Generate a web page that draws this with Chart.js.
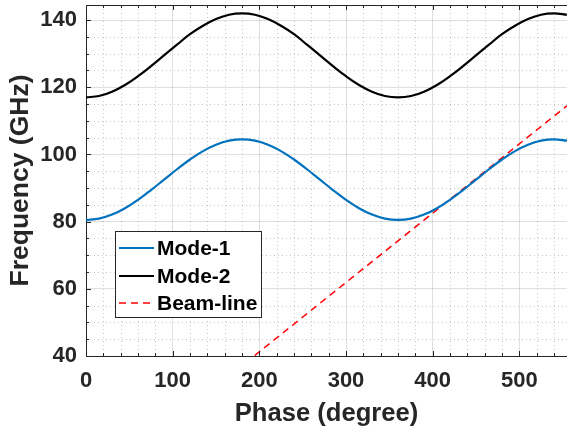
<!DOCTYPE html>
<html>
<head>
<meta charset="utf-8">
<script src="https://cdn.jsdelivr.net/npm/chart.js@4/dist/chart.umd.min.js"></script>
<style>
html,body{margin:0;padding:0;background:#fff;}
#wrap{width:567px;height:432px;}
</style>
</head>
<body>
<div id="wrap"><canvas id="c" width="567" height="432"></canvas></div>
<script>
// ---- data ----
const phase = [0,15,30,45,60,75,90,105,120,135,150,165,180,195,210,225,240,255,270,285,300,315,330,345,360,375,390,405,420,435,450,465,480,495,510,525,540,555];
const mode1 = [80.5,80.9,82.1,84.0,86.5,89.4,92.5,95.6,98.5,101.0,102.9,104.1,104.5,104.1,102.9,101.0,98.5,95.6,92.5,89.4,86.5,84.0,82.1,80.9,80.5,80.9,82.1,84.0,86.5,89.4,92.5,95.6,98.5,101.0,102.9,104.1,104.5,104.1];
const mode2 = [117.0,117.4,118.7,120.7,123.3,126.3,129.5,132.7,135.8,138.3,140.3,141.6,142.0,141.6,140.3,138.3,135.8,132.7,129.5,126.3,123.3,120.7,118.7,117.4,117.0,117.4,118.7,120.7,123.3,126.3,129.5,132.7,135.8,138.3,140.3,141.6,142.0,141.6];
const beamPhase = [0, 555];
const beamFreq = [0, 114.5];
const seriesLabels = ["Mode-1","Mode-2","Beam-line"];
const xTitle = "Phase (degree)";
const yTitle = "Frequency (GHz)";

const toXY = (xs, ys) => xs.map((x,i)=>({x:x, y:ys[i]}));
const FONT = "'Liberation Sans', Arial, Helvetica, sans-serif";
const TXT = '#262626';

const axesPlugin = {
  id: 'axesDecor',
  beforeDatasetsDraw(chart) {
    const {ctx, chartArea:a, scales:{x, y}} = chart;
    ctx.save();
    ctx.strokeStyle = 'rgba(38,38,38,0.25)';
    ctx.lineWidth = 1;
    ctx.setLineDash([1,3]);
    for (let v = 20; v < 556; v += 20) {
      if (v % 100 === 0) continue;
      const px = Math.round(x.getPixelForValue(v)) + 0.5;
      ctx.beginPath(); ctx.moveTo(px, a.top); ctx.lineTo(px, a.bottom); ctx.stroke();
    }
    for (let v = 45; v < 145; v += 5) {
      if (v % 20 === 0) continue;
      const py = Math.round(y.getPixelForValue(v)) + 0.5;
      ctx.beginPath(); ctx.moveTo(a.left, py); ctx.lineTo(a.right, py); ctx.stroke();
    }
    ctx.restore();
  },
  afterDatasetsDraw(chart) {
    const {ctx, chartArea:a, scales:{x, y}} = chart;
    ctx.save();
    ctx.strokeStyle = '#262626';
    ctx.lineWidth = 1;
    // top border
    ctx.beginPath(); ctx.moveTo(a.left, a.top + 0.5); ctx.lineTo(a.right, a.top + 0.5); ctx.stroke();
    // x ticks (bottom & top, inward)
    for (let v = 0; v < 556; v += 20) {
      const px = Math.round(x.getPixelForValue(v)) + 0.5;
      const len = v % 100 === 0 ? 5 : 3;
      ctx.beginPath(); ctx.moveTo(px, a.bottom); ctx.lineTo(px, a.bottom - len); ctx.stroke();
      ctx.beginPath(); ctx.moveTo(px, a.top); ctx.lineTo(px, a.top + len); ctx.stroke();
    }
    for (let v = 40; v < 145; v += 5) {
      const py = Math.round(y.getPixelForValue(v)) + 0.5;
      const len = v % 20 === 0 ? 5 : 3;
      ctx.beginPath(); ctx.moveTo(a.left, py); ctx.lineTo(a.left + len, py); ctx.stroke();
    }
    // legend box
    const bx = 115.5, by = 231.5, bw = 146, bh = 86;
    ctx.fillStyle = '#fff';
    ctx.fillRect(bx, by, bw, bh);
    ctx.strokeStyle = '#262626';
    ctx.strokeRect(bx, by, bw, bh);
    const rows = [248, 276, 303];
    chart.data.datasets.forEach((ds, i) => {
      ctx.save();
      ctx.strokeStyle = ds.borderColor;
      ctx.lineWidth = ds.borderWidth;
      ctx.setLineDash(ds.borderDash || []);
      ctx.beginPath(); ctx.moveTo(119, rows[i]); ctx.lineTo(154, rows[i]); ctx.stroke();
      ctx.restore();
      ctx.fillStyle = '#000';
      ctx.font = "bold 21px " + FONT;
      ctx.textBaseline = 'middle';
      ctx.textAlign = 'left';
      ctx.fillText(ds.label, 157, rows[i] + 1);
    });
    ctx.restore();
  }
};

new Chart(document.getElementById('c'), {
  type: 'line',
  data: {
    datasets: [
      { label: seriesLabels[0], data: toXY(phase, mode1), borderColor: '#0072BD', borderWidth: 2.2, pointRadius: 0, tension: 0.4, fill: false },
      { label: seriesLabels[1], data: toXY(phase, mode2), borderColor: '#000000', borderWidth: 2.2, pointRadius: 0, tension: 0.4, fill: false },
      { label: seriesLabels[2], data: toXY(beamPhase, beamFreq), borderColor: '#FF0000', borderWidth: 1.5, borderDash: [7,5], pointRadius: 0, tension: 0, fill: false }
    ]
  },
  options: {
    responsive: false,
    animation: false,
    layout: { padding: { top: 5, right: 0, left: 0, bottom: 0 } },
    plugins: { legend: { display: false }, tooltip: { enabled: false } },
    scales: {
      x: {
        type: 'linear', min: 0, max: 555,
        afterFit: s => { s.height = 76; s.paddingLeft = 0; s.paddingRight = 0; },
        ticks: { stepSize: 100, includeBounds: false, padding: 12, color: TXT, font: { family: FONT, size: 22, weight: 'bold' }, maxRotation: 0 },
        grid: { color: 'rgba(38,38,38,0.15)', drawTicks: false },
        border: { color: '#262626', width: 1 },
        title: { display: true, text: xTitle, color: TXT, font: { family: FONT, size: 25.6, weight: 'bold' }, padding: { top: 0, bottom: 3 } }
      },
      y: {
        type: 'linear', min: 40, max: 144.5,
        afterFit: s => { s.width = 86; s.paddingTop = 0; s.paddingBottom = 0; },
        ticks: { stepSize: 20, includeBounds: false, padding: 9, color: TXT, font: { family: FONT, size: 22, weight: 'bold' } },
        grid: { color: 'rgba(38,38,38,0.15)', drawTicks: false },
        border: { color: '#262626', width: 1 },
        title: { display: true, text: yTitle, color: TXT, font: { family: FONT, size: 26.5, weight: 'bold' }, padding: { top: 5, bottom: 0 } }
      }
    }
  },
  plugins: [axesPlugin]
});
</script>
</body>
</html>
